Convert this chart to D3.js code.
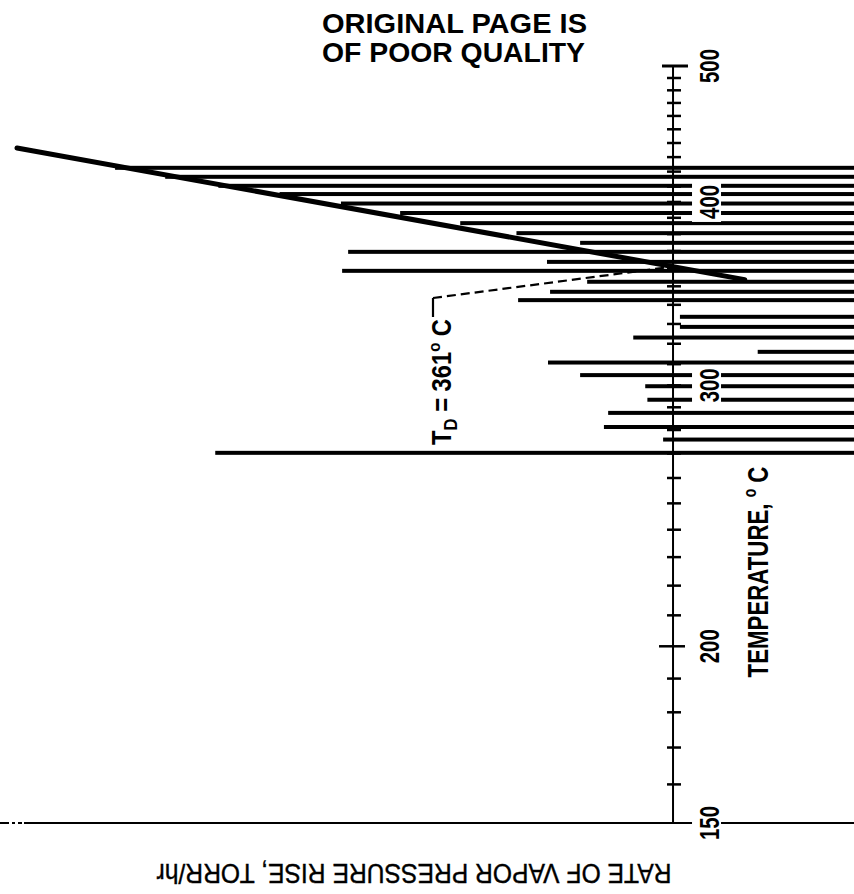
<!DOCTYPE html>
<html>
<head>
<meta charset="utf-8">
<script src="https://cdn.jsdelivr.net/npm/d3@7"></script>
<style>
  html, body { margin: 0; padding: 0; background: #fff; }
  svg { display: block; }
  text { font-family: "Liberation Sans", Arial, sans-serif; }
</style>
</head>
<body>
<svg id="chart" width="854" height="894"></svg>
<script>
// Measured temperatures (deg C) of each run, top to bottom
const tempC = [422.6, 416.5, 410.5, 405.1, 399.0, 393.0, 386.7, 380.6, 374.8,
               369.5, 363.7, 358.6, 352.5, 347.0, 342.5, 333.7, 328.5, 323.1,
               316.0, 310.8, 304.8, 299.6, 293.4, 287.5, 281.3, 275.9, 270.3];
// Rate of vapour pressure rise for each run (torr/hr, log axis)
const rate = [356, 210, 120, 63, 33, 17.7, 9.4, 5.2, 2.66,
              30.6, 3.77, 32.6, 2.47, 3.65, 5.11, 0.93, 0.93, 1.52,
              0.41, 3.73, 2.66, 1.34, 1.31, 1.98, 2.07, 1.11, 124];
// Straight-line fit through the high-temperature runs
const fitTemp = [436.4, 353.7];
const fitRate = [1000, 0.47];
// Decomposition temperature
const tD = 361;
// Temperature axis
const tickLabels = [150, 200, 300, 400, 500];
const minorTicks = d3.range(160, 500, 10);

const svg = d3.select("#chart");

// Temperature axis is linear in reciprocal absolute temperature
const inv = d3.scaleLinear()
  .domain([1 / (500 + 273.15), 1 / (150 + 273.15)])
  .range([66, 823]);
const yT = t => inv(1 / (t + 273.15));

// Rate axis runs right-to-left on a log scale
const x = d3.scaleLog().domain([0.1, 1000]).range([891.7, 17]);
const axisX = x(1);

// Squeeze a rotated label along its own baseline to a given length
function squeeze(sel, len, rot) {
  sel.each(function () {
    const el = d3.select(this);
    const base = el.attr("data-pos");
    const w = this.getComputedTextLength();
    el.attr("transform", `translate(${base}) rotate(${rot}) scale(${len / w},1)`);
  });
}

// Bars
svg.append("g").selectAll("rect")
  .data(tempC.map((t, i) => ({ t, r: rate[i] })))
  .join("rect")
  .attr("x", d => x(d.r))
  .attr("y", d => yT(d.t) - 2)
  .attr("width", d => x(0.1) - x(d.r))
  .attr("height", 4)
  .attr("fill", "#000");

// Fit line
svg.append("line")
  .attr("x1", x(fitRate[0])).attr("y1", yT(fitTemp[0]))
  .attr("x2", x(fitRate[1])).attr("y2", yT(fitTemp[1]))
  .attr("stroke", "#000").attr("stroke-width", 5).attr("stroke-linecap", "round");

// Rate axis (bottom), with a broken stub at the far left
const yBase = yT(150);
svg.append("line")
  .attr("x1", 24).attr("x2", 854)
  .attr("y1", yBase).attr("y2", yBase)
  .attr("stroke", "#000").attr("stroke-width", 2);
svg.append("line")
  .attr("x1", 0).attr("x2", 22)
  .attr("y1", yBase).attr("y2", yBase)
  .attr("stroke", "#000").attr("stroke-width", 2)
  .attr("stroke-dasharray", "9,3,3,3");

// Temperature axis
const ax = svg.append("g");
ax.append("line")
  .attr("x1", axisX).attr("x2", axisX)
  .attr("y1", yT(500)).attr("y2", yT(150))
  .attr("stroke", "#000").attr("stroke-width", 2);
ax.selectAll("line.minor")
  .data(minorTicks)
  .join("line")
  .attr("class", "minor")
  .attr("x1", d => axisX - (d === 200 ? 14 : 6))
  .attr("x2", d => axisX + (d === 200 ? 12 : 8))
  .attr("y1", d => yT(d)).attr("y2", d => yT(d))
  .attr("stroke", "#000").attr("stroke-width", 2.5);
ax.append("line")
  .attr("x1", axisX - 11).attr("x2", axisX + 15)
  .attr("y1", yT(500)).attr("y2", yT(500))
  .attr("stroke", "#000").attr("stroke-width", 3);

// Tick labels with white backing that breaks the bars
const lab = svg.append("g");
lab.selectAll("rect")
  .data(tickLabels)
  .join("rect")
  .attr("x", axisX + 19).attr("width", 29)
  .attr("y", d => yT(d) - 20).attr("height", 40)
  .attr("fill", "#fff");
lab.selectAll("text")
  .data(tickLabels)
  .join("text")
  .attr("data-pos", d => `${axisX + 46},${yT(d)}`)
  .attr("text-anchor", "middle")
  .attr("font-size", 28)
  .attr("font-weight", "bold")
  .text(d => d)
  .call(squeeze, 34, -90);

// Temperature axis title
const tt = svg.append("text")
  .attr("data-pos", "768,572")
  .attr("text-anchor", "middle")
  .attr("font-size", 29)
  .attr("font-weight", "bold");
tt.append("tspan").text("TEMPERATURE, ");
tt.append("tspan").attr("font-size", 18).attr("dy", -12).text("o");
tt.append("tspan").attr("dy", 12).text(" C");
tt.call(squeeze, 211, -90);

// Rate axis title (printed upside down)
svg.append("text")
  .attr("transform", `translate(414,864) rotate(180)`)
  .attr("text-anchor", "middle")
  .attr("font-size", 28)
  .attr("stroke", "#000").attr("stroke-width", 0.4)
  .attr("textLength", 515)
  .attr("lengthAdjust", "spacingAndGlyphs")
  .text("RATE OF VAPOR PRESSURE RISE, TORR/hr");

// T_D annotation with leader to the axis crossing
const lx = 433, ly = 298;
svg.append("line")
  .attr("x1", lx).attr("y1", ly)
  .attr("x2", axisX).attr("y2", yT(tD))
  .attr("stroke", "#000").attr("stroke-width", 2.2)
  .attr("stroke-dasharray", "9,5");
svg.append("line")
  .attr("x1", lx).attr("y1", ly).attr("x2", lx).attr("y2", ly + 19)
  .attr("stroke", "#000").attr("stroke-width", 2.2);
const td = svg.append("text")
  .attr("data-pos", "451,445")
  .attr("font-size", 27)
  .attr("font-weight", "bold");
td.append("tspan").text("T");
td.append("tspan").attr("font-size", 19).attr("dy", 6).text("D");
td.append("tspan").attr("dy", -6).text(" = " + tD);
td.append("tspan").attr("font-size", 17).attr("dy", -11).text("o");
td.append("tspan").attr("dy", 11).text(" C");
td.call(squeeze, 126, -90);

// Header stamp
const hdr = svg.append("g")
  .attr("font-weight", "bold")
  .attr("font-size", 28);
hdr.append("text").attr("x", 322).attr("y", 33)
  .attr("textLength", 265).attr("lengthAdjust", "spacingAndGlyphs")
  .text("ORIGINAL PAGE IS");
hdr.append("text").attr("x", 322).attr("y", 62)
  .attr("textLength", 263).attr("lengthAdjust", "spacingAndGlyphs")
  .text("OF POOR QUALITY");
</script>
</body>
</html>
